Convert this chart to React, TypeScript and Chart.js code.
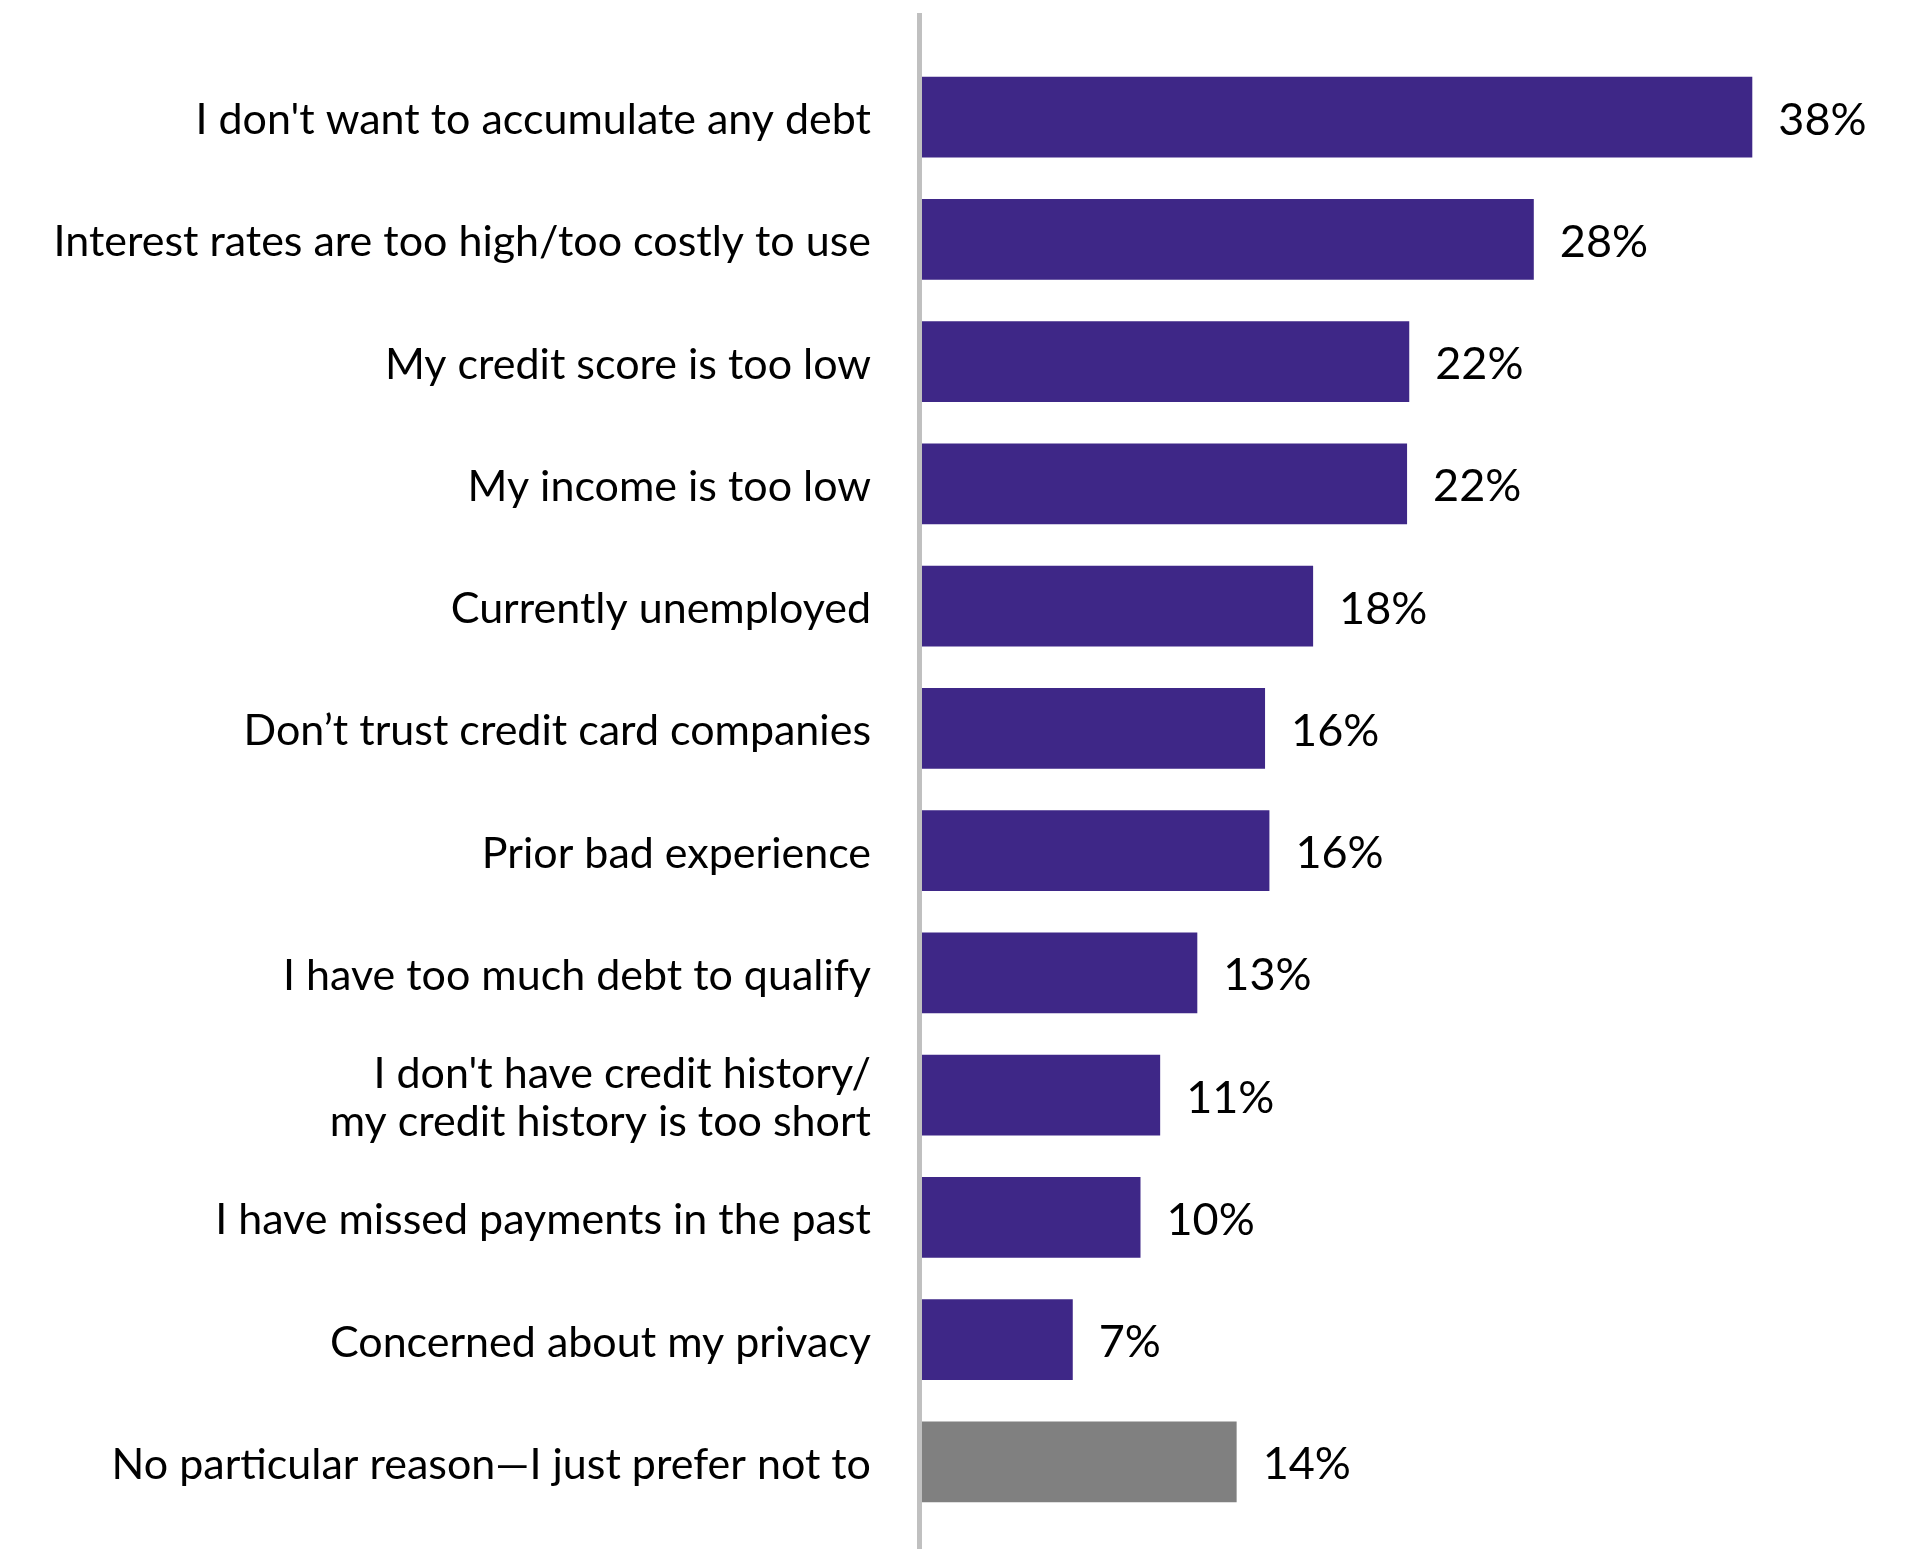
import React, { useEffect, useRef } from "react";
import { Chart, registerables } from "chart.js";

Chart.register(...registerables);

const categories: (string | string[])[] = [
  "I don't want to accumulate any debt",
  "Interest rates are too high/too costly to use",
  "My credit score is too low",
  "My income is too low",
  "Currently unemployed",
  "Don’t trust credit card companies",
  "Prior bad experience",
  "I have too much debt to qualify",
  ["I don't have credit history/", "my credit history is too short"],
  "I have missed payments in the past",
  "Concerned about my privacy",
  "No particular reason—I just prefer not to",
];

const values: number[] = [38, 28, 22.3, 22.2, 17.9, 15.7, 15.9, 12.6, 10.9, 10, 6.9, 14.4];

const barColors: string[] = [
  "#3E2787", "#3E2787", "#3E2787", "#3E2787", "#3E2787", "#3E2787",
  "#3E2787", "#3E2787", "#3E2787", "#3E2787", "#3E2787", "#808080",
];

const FONT = "Lato";

export default function App() {
  const ref = useRef<HTMLCanvasElement | null>(null);

  useEffect(() => {
    if (!ref.current) return;

    const axisLine = {
      id: "axisLine",
      beforeDatasetsDraw(chart: any) {
        const ctx = chart.ctx;
        const x0 = chart.scales.x.getPixelForValue(0);
        ctx.save();
        ctx.fillStyle = "#c0c0c0";
        ctx.fillRect(x0 - 5, 13, 5, chart.height - 13);
        ctx.restore();
      },
    };

    const valueLabels = {
      id: "valueLabels",
      afterDatasetsDraw(chart: any) {
        const ctx = chart.ctx;
        const meta = chart.getDatasetMeta(0);
        ctx.save();
        ctx.fillStyle = "#000";
        ctx.font = `45px ${FONT}`;
        ctx.textAlign = "left";
        ctx.textBaseline = "middle";
        meta.data.forEach((bar: any, i: number) => {
          ctx.fillText(`${Math.round(values[i])}%`, bar.x + 26, bar.y + 3);
        });
        ctx.restore();
      },
    };

    const chart = new Chart(ref.current, {
      type: "bar",
      data: {
        labels: categories,
        datasets: [
          {
            data: values,
            backgroundColor: barColors,
            borderWidth: 0,
            barPercentage: 0.66,
            categoryPercentage: 1,
          },
        ],
      },
      options: {
        indexAxis: "y",
        responsive: false,
        animation: false,
        layout: { padding: { top: 56, bottom: 26, left: 0, right: 111 } },
        plugins: {
          legend: { display: false },
          tooltip: { enabled: false },
        },
        scales: {
          x: {
            display: false,
            min: 0,
            max: 40,
          },
          y: {
            grid: { display: false, drawTicks: false },
            border: { display: false },
            ticks: {
              padding: 51,
              labelOffset: 3,
              color: "#000",
              font: { family: FONT, size: 43, lineHeight: 1.13 },
            },
            afterFit(scale: any) {
              scale.width = 922;
              scale.paddingTop = 0;
              scale.paddingBottom = 0;
            },
          },
        },
      },
      plugins: [axisLine, valueLabels],
    });

    return () => chart.destroy();
  }, []);

  return (
    <div style={{ position: "absolute", left: 0, top: 0, width: 1907, height: 1549, background: "#fff" }}>
      <canvas ref={ref} width={1907} height={1549} style={{ display: "block" }} />
    </div>
  );
}
